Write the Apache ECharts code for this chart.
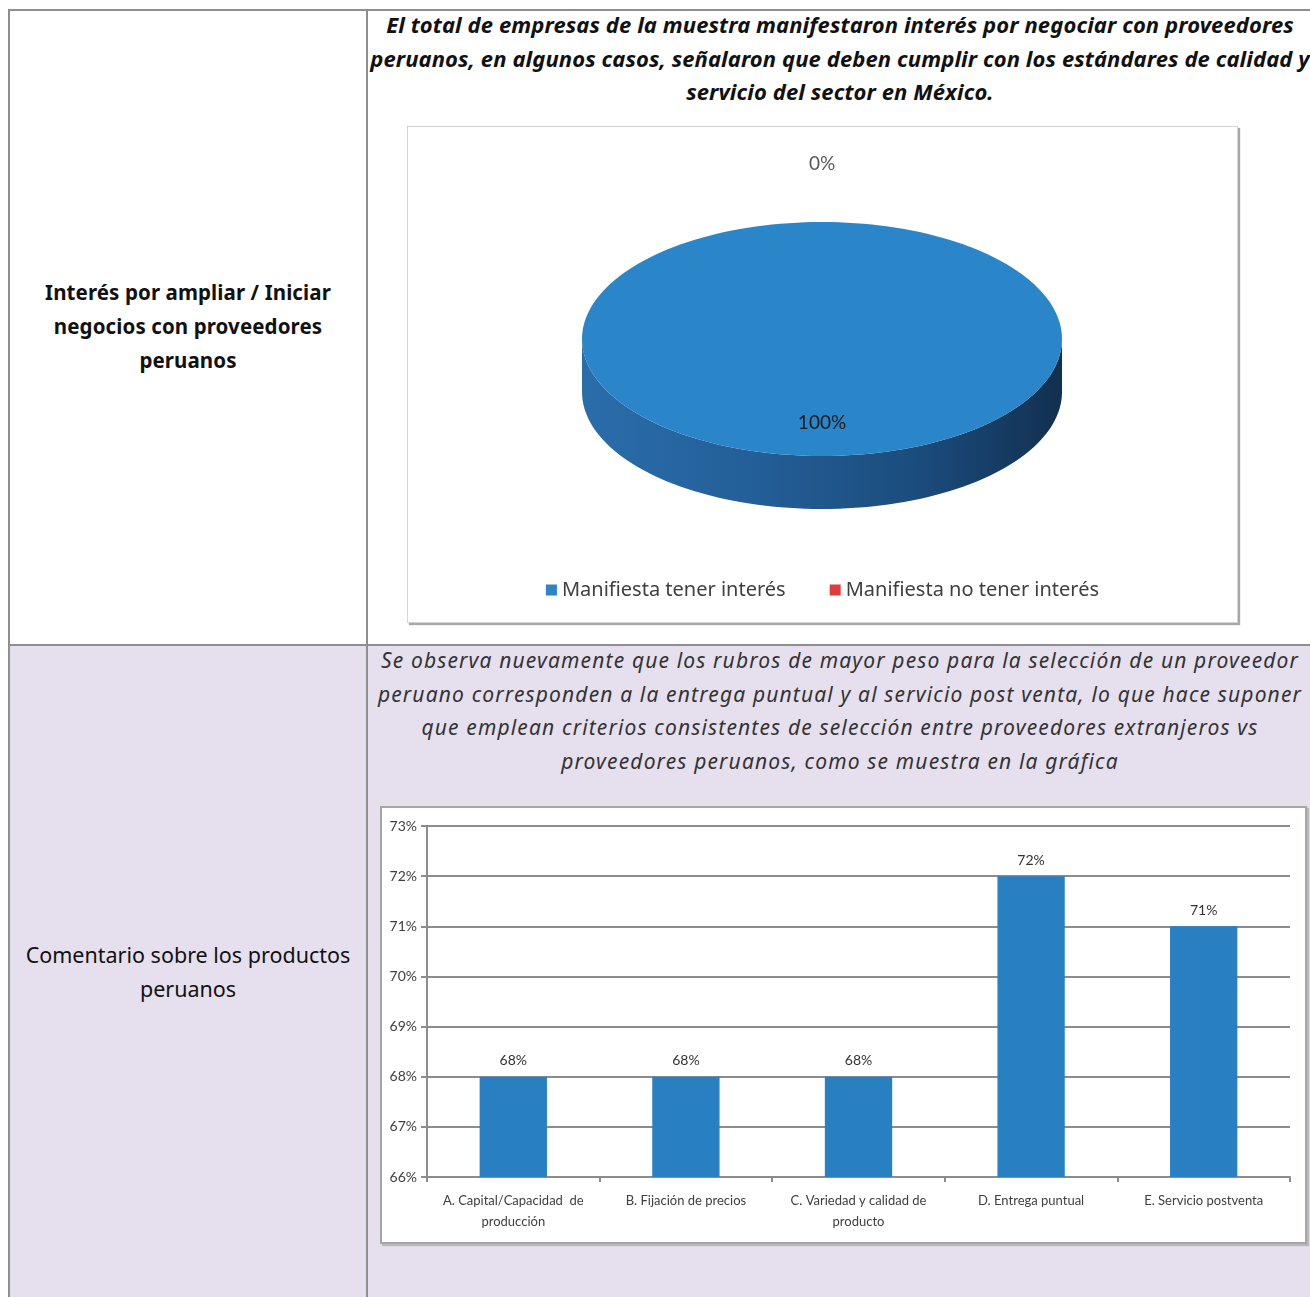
<!DOCTYPE html>
<html>
<head>
<meta charset="utf-8">
<script src="https://cdn.jsdelivr.net/npm/echarts@6/dist/echarts.min.js"></script>
<style>
	html, body{
		margin: 0;
		padding: 0;
		width: 1310px;
		height: 1297px;
		overflow: hidden;
		background: #ffffff;
		position: relative;
		font-family: "Noto Sans", sans-serif;
	}
	.row2_bg{
		position: absolute;
		left: 9px;
		top: 645px;
		width: 1310px;
		height: 660px;
		background: #e6e0ee;
	}
	.hline, .vline{
		position: absolute;
		background: #8f8f8f;
	}
	.txt{
		position: absolute;
		text-align: center;
		white-space: nowrap;
	}
	.left_txt{
		left: 9px;
		width: 358px;
		color: #111;
	}
	.right_txt{
		left: 367px;
		width: 946px;
	}
	.box{
		position: absolute;
		background: #ffffff;
	}
	#pie_box{
		left: 407px;
		top: 126px;
		width: 829px;
		height: 495px;
		border: 1px solid #d4d4d4;
		box-shadow: 2px 2px 1px #a8a8a8;
	}
	#bar_box{
		left: 380px;
		top: 806px;
		width: 923px;
		height: 434px;
		border: 2px solid #a6a6a6;
		box-shadow: 2px 2px 1px #b8b8b8;
	}
</style>
</head>
<body>
	<div class="row2_bg"></div>

	<!-- bordes de la tabla -->
	<div class="hline" style="left:9px;top:9px;width:1310px;height:2px;"></div>
	<div class="hline" style="left:9px;top:644px;width:1310px;height:2px;"></div>
	<div class="vline" style="left:8px;top:9px;width:2px;height:1300px;"></div>
	<div class="vline" style="left:366px;top:9px;width:2px;height:1300px;"></div>

	<!-- fila 1 -->
	<div class="txt left_txt" style="top:275px;font-size:20.5px;font-weight:bold;line-height:34px;letter-spacing:0.1px;">
		Interés por ampliar / Iniciar<br>negocios con proveedores<br>peruanos
	</div>
	<div class="txt right_txt" style="top:8px;font-size:22px;font-weight:bold;font-style:italic;line-height:33.5px;color:#111;letter-spacing:0.1px;">
		El total de empresas de la muestra manifestaron interés por negociar con proveedores<br>peruanos, en algunos casos, señalaron que deben cumplir con los estándares de calidad y<br>servicio del sector en México.
	</div>
	<div id="pie_box" class="box"></div>

	<!-- fila 2 -->
	<div class="txt left_txt" style="top:938px;font-size:21.5px;line-height:34px;">
		Comentario sobre los productos<br>peruanos
	</div>
	<div class="txt right_txt" style="top:644px;font-size:21px;font-style:italic;line-height:33.7px;color:#333;letter-spacing:1.15px;">
		Se observa nuevamente que los rubros de mayor peso para la selección de un proveedor<br>peruano corresponden a la entrega puntual y al servicio post venta, lo que hace suponer<br>que emplean criterios consistentes de selección entre proveedores extranjeros vs<br>proveedores peruanos, como se muestra en la gráfica
	</div>
	<div id="bar_box" class="box"></div>

<script>
	// datos del pastel
	var pieNames = ['Manifiesta tener interés', 'Manifiesta no tener interés']
	var pieValues = [100, 0]

	// datos de barras
	var barCats = ['A. Capital/Capacidad  de\nproducción', 'B. Fijación de precios', 'C. Variedad y calidad de\nproducto', 'D. Entrega puntual', 'E. Servicio postventa']
	var barValues = [68, 68, 68, 72, 71]
	var yTicks = [66, 67, 68, 69, 70, 71, 72, 73]

	var chartFont = 'Lato, "Noto Sans", sans-serif'

	// ---------- pastel 3D ----------
	var pieChart = echarts.init(document.getElementById('pie_box'))
	var pieColors = ['#2a85c9', '#e03c3c']
	var total = pieValues.reduce(function(a, b){ return a + b }, 0)

	function ellipsePts(cx, cy, rx, ry, t0, t1){
		var pts = []
		var n = Math.max(2, Math.ceil(Math.abs(t1 - t0) / (Math.PI / 90)))
		for( var k = 0; k <= n; k++ ){
			var t = t0 + (t1 - t0) * k / n
			pts.push([cx + rx * Math.cos(t), cy + ry * Math.sin(t)])
		}
		return pts
	}

	function slice3d(i, api){
		var v = api.value(0)
		var before = 0
		for( var j = 0; j < i; j++ ) before += pieValues[j]
		var cx = 414, cy = 212, rx = 240, ry = 117, depth = 53
		var t0 = -Math.PI / 2 + before / total * Math.PI * 2
		var t1 = -Math.PI / 2 + (before + v) / total * Math.PI * 2
		var children = []

		// lado frontal (solo la mitad visible)
		var ranges = [[0, Math.PI], [2 * Math.PI, 3 * Math.PI], [-2 * Math.PI, -Math.PI]]
		ranges.forEach(function(r){
			var s = Math.max(t0, r[0]), e = Math.min(t1, r[1])
			if( e - s > 1e-6 ){
				var top = ellipsePts(cx, cy, rx, ry, s, e)
				var bot = ellipsePts(cx, cy + depth, rx, ry, e, s)
				children.push({
					type: 'polygon',
					shape: { points: top.concat(bot) },
					style: {
						fill: new echarts.graphic.LinearGradient(0, 0, 1, 0, [
							{ offset: 0, color: '#2a6dab' },
							{ offset: 0.35, color: '#235f98' },
							{ offset: 0.7, color: '#1b4c7d' },
							{ offset: 1, color: '#12304f' }
						])
					}
				})
			}
		})

		// cara superior
		if( v > 0 ){
			var pts = ellipsePts(cx, cy, rx, ry, t0, t1)
			if( t1 - t0 < Math.PI * 2 - 1e-6 ) pts.unshift([cx, cy])
			children.push({
				type: 'polygon',
				shape: { points: pts },
				style: { fill: pieColors[i] }
			})
		}

		// etiqueta
		var mid = (t0 + t1) / 2
		var kf = v > 0 ? 0.72 : 1.5
		children.push({
			type: 'text',
			x: cx + rx * kf * Math.cos(mid),
			y: cy + ry * kf * Math.sin(mid),
			style: {
				text: v + '%',
				font: '19px ' + chartFont,
				fill: v > 0 ? '#1a1a1a' : '#595959',
				align: 'center',
				verticalAlign: 'middle',
				textAlign: 'center',
				textVerticalAlign: 'middle'
			}
		})
		return { type: 'group', children: children }
	}

	var pieOption = {
		animation: false,
		color: pieColors,
		legend: {
			top: 448,
			left: 'center',
			icon: 'rect',
			itemWidth: 11,
			itemHeight: 11,
			itemGap: 44,
			textStyle: { fontSize: 20, color: '#404040', fontFamily: '"Noto Sans", sans-serif' }
		},
		series: pieNames.map(function(name, i){
			return {
				type: 'custom',
				name: name,
				coordinateSystem: 'none',
				itemStyle: { color: pieColors[i] },
				data: [pieValues[i]],
				renderItem: function(params, api){ return slice3d(i, api) }
			}
		})
	}
	pieChart.setOption(pieOption)

	// ---------- barras ----------
	var barChart = echarts.init(document.getElementById('bar_box'))
	var barOption = {
		animation: false,
		grid: { left: 45, top: 18, right: 15, bottom: 65 },
		xAxis: {
			type: 'category',
			data: barCats,
			axisLine: { lineStyle: { color: '#8c8c8c', width: 2 } },
			axisTick: { show: true, length: 5, lineStyle: { color: '#8c8c8c', width: 2 } },
			axisLabel: { interval: 0, color: '#404040', fontSize: 13, lineHeight: 21, margin: 13, fontFamily: chartFont }
		},
		yAxis: {
			type: 'value',
			min: yTicks[0],
			max: yTicks[yTicks.length - 1],
			interval: 1,
			axisLine: { show: true, lineStyle: { color: '#8c8c8c', width: 2 } },
			axisTick: { show: true, length: 6, lineStyle: { color: '#8c8c8c', width: 2 } },
			axisLabel: { formatter: '{value}%', color: '#404040', fontSize: 14, margin: 10, fontFamily: chartFont },
			splitLine: { lineStyle: { color: '#8c8c8c', width: 2 } }
		},
		series: [{
			type: 'bar',
			data: barValues,
			barWidth: '39%',
			itemStyle: { color: '#2880c3' },
			label: {
				show: true,
				position: 'top',
				distance: 9,
				formatter: '{c}%',
				color: '#333',
				fontSize: 14,
				fontFamily: chartFont
			}
		}]
	}
	barChart.setOption(barOption)
</script>
</body>
</html>
